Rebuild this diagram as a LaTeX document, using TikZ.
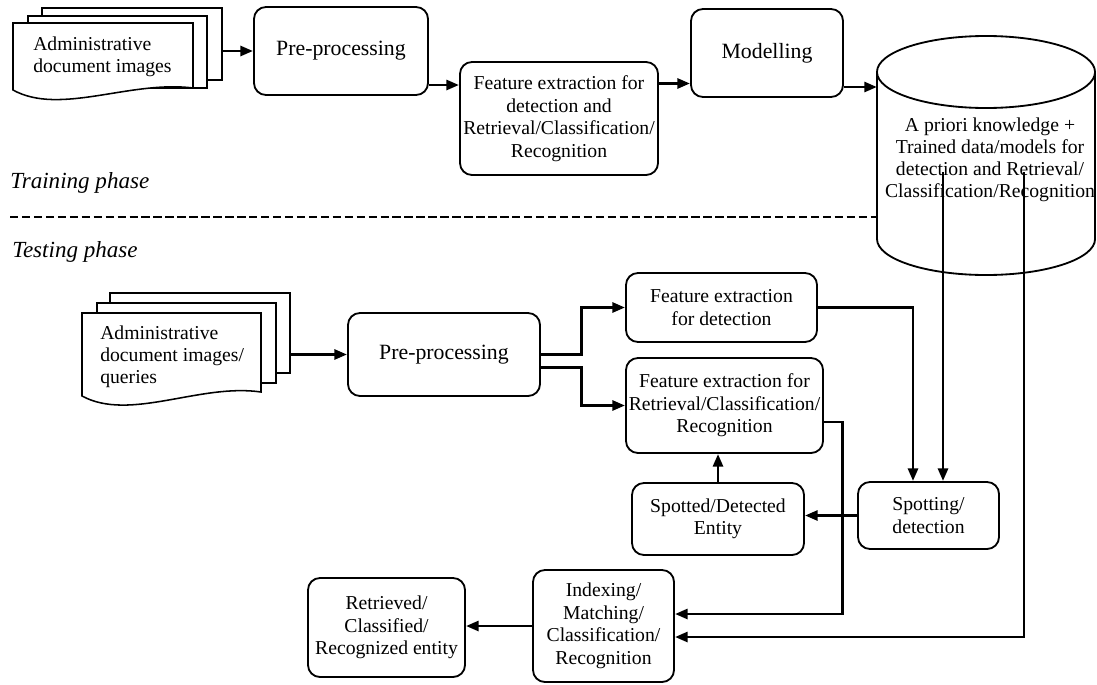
\documentclass[tikz,border=0pt]{standalone}
\usepackage{fontspec}
\setmainfont{Liberation Serif}
\usepackage{tikz}
\usetikzlibrary{arrows.meta,positioning,calc}

\begin{document}
\begin{tikzpicture}[x=0.025cm, y=-0.025cm,
            box/.style={rectangle, draw=black, line width=1.3pt, rounded corners=0.3cm, align=center, inner sep=2pt, font=\fontsize{14}{16}\selectfont},
            bigbox/.style={box, font=\fontsize{15.5}{18}\selectfont},
            page/.style={draw=black, line width=1.1pt, fill=white},
            doctext/.style={anchor=west, align=left, inner sep=0pt, font=\fontsize{14}{15.5}\selectfont},
            phase/.style={anchor=base west, inner sep=0pt, font=\fontsize{16.4}{18}\selectfont\itshape},
            arrow/.style={-{Triangle[length=9pt,width=7pt]}, line width=2.1pt},
            dbline/.style={draw=black, line width=1.3pt}
        ]
        \useasboundingbox (0,0) rectangle (1097,684);

        % Training phase
        \draw[page] (42,8) rectangle (222,80);
        \draw[page] (28,16) rectangle (207,88);
        \draw[page] (13,23) -- (193,23) -- (193,88) .. controls (130,80) and (60,116) .. (13,90) -- cycle;
        \node[doctext] (docs) at (33,57) {Administrative\\document images};
        \coordinate (docsout) at (222,51);

        \node[bigbox, minimum width=4.35cm, minimum height=2.2cm] (prep) at (341,51) {Pre-processing};
        \node[box, minimum width=4.95cm, minimum height=2.825cm] (feat) at (559,118.5) {Feature extraction for\\detection and\\Retrieval/Classification/\\Recognition};
        \node[bigbox, minimum width=3.8cm, minimum height=2.2cm] (model) at (767,53) {Modelling};

        % Base de connaissances
        \draw[dbline] (877,72) -- (877,239) arc[start angle=180, end angle=360, x radius=2.725cm, y radius=0.9cm] -- (1095,72);
        \draw[dbline] (986,72) ellipse[x radius=2.725cm, y radius=0.9cm];
        \node[align=center, font=\fontsize{14}{15.6}\selectfont] (kb) at (990,160) {A priori knowledge +\\Trained data/models for\\detection and Retrieval/\\Classification/Recognition};
        \coordinate (kbin) at (877,87);
        \coordinate (kbdet) at (943,172);
        \coordinate (kbidx) at (1024,172);

        \draw[arrow] (docsout) -- (docsout -| prep.west);
        \draw[arrow] ([yshift=-0.85cm]prep.east) -- ([yshift=-0.85cm]prep.east -| feat.west);
        \draw[arrow] ([yshift=0.875cm]feat.east) -- ([yshift=0.875cm]feat.east -| model.west);
        \draw[arrow] ([yshift=-0.85cm]model.east) -- ([yshift=-0.85cm]model.east -| kbin);

        % Separation
        \node[phase] (train) at (10,188) {Training phase};
        \coordinate (sepa) at (10,217);
        \coordinate (sepb) at (877,217);
        \draw[line width=2pt, dash pattern=on 6pt off 2.5pt] (sepa) -- (sepb);
        \node[phase] (test) at (12,257) {Testing phase};

        % Testing phase
        \draw[page] (110,293) rectangle (290,373);
        \draw[page] (97,303) rectangle (276,383);
        \draw[page] (82,313) -- (261,313) -- (261,392) .. controls (200,383) and (130,422) .. (82,396) -- cycle;
        \node[doctext] (query) at (100,357) {Administrative\\document images/\\queries};
        \coordinate (queryout) at (290,354.5);

        \node[bigbox, minimum width=4.8cm, minimum height=2.075cm] (prepq) at (444,354.5) {Pre-processing};
        \node[box, minimum width=4.775cm, minimum height=1.725cm] (featdet) at (721.5,307.5) {Feature extraction\\for detection};
        \node[box, minimum width=4.925cm, minimum height=2.375cm] (featret) at (724.5,405.5) {Feature extraction for\\Retrieval/Classification/\\Recognition};
        \node[box, minimum width=4.3cm, minimum height=1.8cm] (spotted) at (718,519) {Spotted/Detected\\Entity};
        \node[box, minimum width=3.525cm, minimum height=1.675cm] (spot) at (928.5,515.5) {Spotting/\\detection};
        \node[box, minimum width=3.525cm, minimum height=2.8cm] (index) at (603.5,626) {Indexing/\\Matching/\\Classification/\\Recognition};
        \node[box, minimum width=3.925cm, minimum height=2.475cm] (result) at (386.5,627.5) {Retrieved/\\Classified/\\Recognized entity};

        \draw[arrow] (queryout) -- (queryout -| prepq.west);
        \draw[arrow] (prepq.east) -- ++(1.025cm,0) |- (featdet.west);
        \draw[arrow] ([yshift=-0.325cm]prepq.east) -- ++(1.025cm,0) |- (featret.west);
        \draw[arrow] (featdet.east) -| ([xshift=-0.3875cm]spot.north);
        \draw[arrow] (kbdet) -- (kbdet |- spot.north);
        \draw[arrow] ([yshift=-0.4125cm]featret.east) -- ++(0.475cm,0) |- ([yshift=0.3cm]index.east);
        \draw[arrow] (kbidx) |- ([yshift=-0.275cm]index.east);
        \draw[arrow] (spot.west) -- (spot.west -| spotted.east);
        \draw[arrow] (spotted.north) -- (spotted.north |- featret.south);
        \draw[arrow] (index.west) -- (index.west -| result.east);
\end{tikzpicture}
\end{document}
